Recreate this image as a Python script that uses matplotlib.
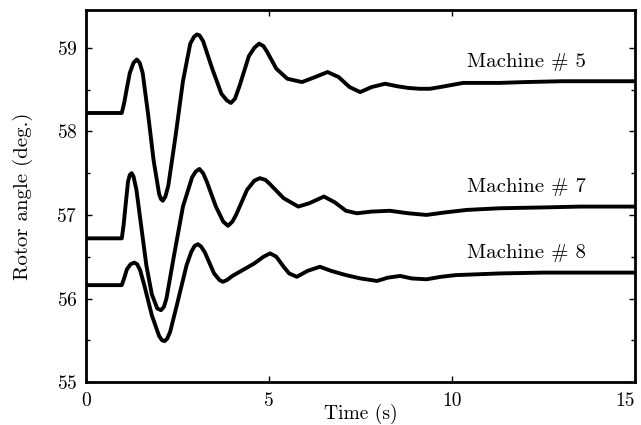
import matplotlib
matplotlib.use("Agg")
import matplotlib.pyplot as plt
from matplotlib.ticker import MultipleLocator

plt.rcParams["font.family"] = "serif"
plt.rcParams["font.serif"] = ["cmr10", "DejaVu Serif"]
plt.rcParams["axes.formatter.use_mathtext"] = True

# Rotor angle swing curves (time in s, angle in degrees)
t_m5 = [0, 0.98, 1.05, 1.12, 1.2, 1.3, 1.39, 1.47, 1.55, 1.7, 1.85, 2.0, 2.05, 2.1,
        2.17, 2.25, 2.45, 2.65, 2.85, 2.95, 3.03, 3.1, 3.2, 3.45, 3.7, 3.85, 3.96,
        4.07, 4.2, 4.45, 4.6, 4.73, 4.85, 4.95, 5.2, 5.5, 5.9, 6.2, 6.6, 6.9, 7.2,
        7.49, 7.8, 8.17, 8.5, 8.8, 9.1, 9.4, 9.8, 10.3, 10.8, 11.3, 12, 13, 14, 15]
a_m5 = [58.22, 58.22, 58.35, 58.52, 58.7, 58.82, 58.86, 58.82, 58.7, 58.2, 57.65,
        57.25, 57.19, 57.17, 57.22, 57.35, 57.95, 58.6, 59.05, 59.13, 59.16, 59.15,
        59.08, 58.75, 58.45, 58.37, 58.34, 58.39, 58.55, 58.9, 59.0, 59.05, 59.02,
        58.95, 58.75, 58.63, 58.59, 58.64, 58.71, 58.65, 58.53, 58.47, 58.53, 58.57,
        58.54, 58.52, 58.51, 58.51, 58.54, 58.58, 58.58, 58.58, 58.59, 58.6, 58.6,
        58.6]

t_m7 = [0, 0.98, 1.03, 1.08, 1.15, 1.2, 1.25, 1.3, 1.38, 1.5, 1.65, 1.8, 1.95, 2.05,
        2.13, 2.2, 2.4, 2.65, 2.9, 3.0, 3.1, 3.2, 3.3, 3.55, 3.75, 3.88, 4.0, 4.1,
        4.4, 4.6, 4.75, 4.9, 5.0, 5.4, 5.8, 6.1, 6.5, 6.8, 7.1, 7.4, 7.8, 8.3, 8.8,
        9.3, 9.8, 10.4, 11.3, 12.5, 13.5, 15]
a_m7 = [56.72, 56.72, 56.88, 57.1, 57.4, 57.48, 57.5, 57.46, 57.3, 56.9, 56.4,
        56.05, 55.88, 55.86, 55.9, 56.0, 56.5, 57.1, 57.45, 57.52, 57.55, 57.5,
        57.4, 57.1, 56.92, 56.87, 56.92, 57.0, 57.3, 57.41, 57.44, 57.42, 57.38,
        57.2, 57.1, 57.14, 57.22, 57.15, 57.05, 57.02, 57.04, 57.05, 57.02, 57.0,
        57.03, 57.06, 57.08, 57.09, 57.1, 57.1]

t_m8 = [0, 0.98, 1.05, 1.12, 1.22, 1.32, 1.4, 1.48, 1.6, 1.8, 2.0, 2.08, 2.15, 2.22,
        2.3, 2.5, 2.75, 2.88, 2.97, 3.06, 3.15, 3.25, 3.5, 3.65, 3.74, 3.85, 4.0,
        4.2, 4.6, 4.85, 5.03, 5.2, 5.4, 5.55, 5.76, 6.05, 6.39, 6.7, 7.1, 7.5, 7.95,
        8.25, 8.58, 8.9, 9.3, 9.7, 10.1, 11.3, 12.5, 15]
a_m8 = [56.16, 56.16, 56.25, 56.35, 56.41, 56.43, 56.41, 56.34, 56.15, 55.8, 55.55,
        55.5, 55.49, 55.52, 55.6, 55.95, 56.4, 56.56, 56.63, 56.65, 56.62, 56.55,
        56.3, 56.22, 56.2, 56.22, 56.27, 56.32, 56.42, 56.5, 56.54, 56.5, 56.38,
        56.3, 56.26, 56.33, 56.38, 56.33, 56.28, 56.24, 56.21, 56.25, 56.27, 56.24,
        56.23, 56.26, 56.28, 56.3, 56.31, 56.31]

x_ticks = [0, 5, 10, 15]
x_tick_labels = ["0", "5", "10", "15"]
labels = ["Machine # 5", "Machine # 7", "Machine # 8"]
label_pos = [(10.4, 58.83), (10.4, 57.34), (10.4, 56.54)]

fig = plt.figure(figsize=(6.41, 4.25), dpi=100)
ax = fig.add_axes([0.134, 0.101, 0.857, 0.875])

for t, a in [(t_m5, a_m5), (t_m7, a_m7), (t_m8, a_m8)]:
    ax.plot(t, a, color="black", lw=2.8, solid_joinstyle="round", solid_capstyle="round")

for text, (x, y) in zip(labels, label_pos):
    ax.text(x, y, text, fontsize=15, ha="left", va="center")

ax.set_xlim(0, 15)
ax.set_ylim(55, 59.45)
ax.set_xticks(x_ticks, x_tick_labels)
ax.yaxis.set_major_locator(MultipleLocator(1))
ax.yaxis.set_minor_locator(MultipleLocator(0.5))
ax.tick_params(which="both", direction="in", top=True, right=True, labelsize=14)
ax.tick_params(which="major", length=4, width=1)
ax.tick_params(which="minor", length=3, width=1)
ax.tick_params(axis="x", pad=7)
ax.tick_params(axis="y", pad=6)
for s in ax.spines.values():
    s.set_linewidth(2)

# right-align the last x tick label so it stays inside the figure
ax.get_xticklabels()[-1].set_horizontalalignment("right")

ax.set_xlabel("Time (s)", fontsize=14, labelpad=-4)
ax.set_ylabel("Rotor angle (deg.)", fontsize=15, labelpad=17)

fig.savefig("out.png", dpi=100)
